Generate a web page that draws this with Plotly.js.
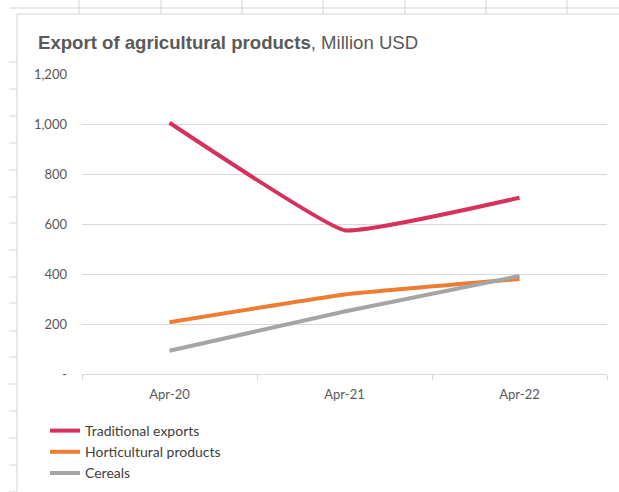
<!DOCTYPE html>
<html>
<head>
<meta charset="utf-8">
<script src="https://cdn.plot.ly/plotly-3.0.1.min.js"></script>
<style>
  html, body { margin: 0; padding: 0; background: #ffffff; }
  #chart { width: 619px; height: 492px; }
</style>
</head>
<body>
<div id="chart"></div>
<script>
// ---- Data ----
const categories = ["Apr-20", "Apr-21", "Apr-22"];
const seriesNames = ["Traditional exports", "Horticultural products", "Cereals"];
const traditionalExports = [1005, 575, 705];
const horticulturalProducts = [207, 318, 380];
const cereals = [93, 250, 392];
const yTickVals = [0, 200, 400, 600, 800, 1000, 1200];
const yTickText = ["-", "200", "400", "600", "800", "1,000", "1,200"];

// ---- Styles ----
const colors = ["#D6305C", "#ED7D31", "#A5A5A5"];
const values = [traditionalExports, horticulturalProducts, cereals];

const traces = values.map((v, i) => ({
  type: "scatter",
  mode: "lines",
  x: categories,
  y: v,
  name: seriesNames[i],
  line: { color: colors[i], width: 4, shape: "spline", smoothing: 0.3 },
  hoverinfo: "skip"
}));

// plot area in pixels: left 82, right 607, top 74, bottom 374
const L = 82, R = 607, T = 74, B = 374;
const px = x => (x - L) / (R - L);
const py = y => (B - y) / (B - T);

const shapes = [];
const sheetCol = "#d4d4d4";
shapes.push({ type: "line", xref: "paper", yref: "paper", x0: px(10), x1: px(619), y0: py(8), y1: py(8), line: { color: sheetCol, width: 1 }, layer: "below" });
[79, 161, 242, 323, 405, 486, 567].forEach(x => {
  shapes.push({ type: "line", xref: "paper", yref: "paper", x0: px(x), x1: px(x), y0: py(0), y1: py(14), line: { color: sheetCol, width: 1 }, layer: "below" });
});
[62, 89, 116, 143, 170, 197, 223, 250, 277, 303, 331, 357, 384, 411, 438, 465, 492].forEach(y => {
  shapes.push({ type: "line", xref: "paper", yref: "paper", x0: px(9), x1: px(17), y0: py(y), y1: py(y), line: { color: sheetCol, width: 1 }, layer: "below" });
});
shapes.push({ type: "line", xref: "paper", yref: "paper", x0: px(17), x1: px(17), y0: py(14), y1: py(492), line: { color: sheetCol, width: 1 }, layer: "below" });
shapes.push({ type: "line", xref: "paper", yref: "paper", x0: px(17), x1: px(619), y0: py(14), y1: py(14), line: { color: sheetCol, width: 1 }, layer: "below" });

const layout = {
  width: 619,
  height: 492,
  paper_bgcolor: "#ffffff",
  plot_bgcolor: "#ffffff",
  margin: { l: L, r: 619 - R, t: T, b: 492 - B, pad: 0, autoexpand: false },
  title: {
    text: "<b>Export of agricultural products</b>, Million USD",
    font: { family: "Liberation Sans, Arial, sans-serif", size: 18.6, color: "#595959" },
    x: 38 / 619, xref: "container", xanchor: "left",
    y: 1 - 42 / 492, yref: "container", yanchor: "middle"
  },
  xaxis: {
    type: "category",
    range: [-0.5, 2.5],
    tickson: "boundaries",
    ticks: "outside",
    ticklen: 5,
    tickcolor: "#d9d9d9",
    showline: true,
    linecolor: "#d9d9d9",
    linewidth: 1,
    showgrid: false,
    zeroline: false,
    ticklabelstandoff: 8,
    automargin: false,
    tickfont: { family: "Lato, sans-serif", size: 13, color: "#595959" },
    fixedrange: true
  },
  yaxis: {
    range: [0, 1200],
    tickvals: yTickVals,
    ticktext: yTickText,
    showgrid: true,
    gridcolor: "#d9d9d9",
    gridwidth: 1,
    zeroline: false,
    showline: false,
    ticks: "",
    ticklabelstandoff: 14,
    automargin: false,
    tickfont: { family: "Lato, sans-serif", size: 13, color: "#595959" },
    fixedrange: true
  },
  showlegend: true,
  legend: {
    orientation: "v",
    x: px(45), xanchor: "left",
    y: py(415), yanchor: "top",
    font: { family: "Lato, sans-serif", size: 14, color: "#404040" },
    bgcolor: "rgba(0,0,0,0)",
    tracegroupgap: 0,
    itemclick: false,
    itemdoubleclick: false
  },
  shapes: shapes,
  hovermode: false
};

Plotly.newPlot("chart", traces, layout, { displayModeBar: false, staticPlot: true });
</script>
</body>
</html>
